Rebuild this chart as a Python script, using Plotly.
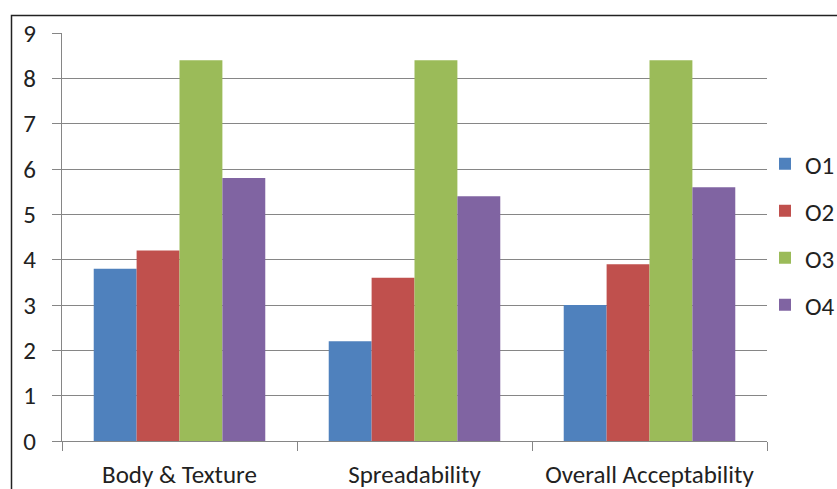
import plotly.graph_objects as go

categories = ["Body & Texture", "Spreadability", "Overall Acceptability"]
series_names = ["O1", "O2", "O3", "O4"]
o1 = [3.8, 2.2, 3.0]
o2 = [4.2, 3.6, 3.9]
o3 = [8.4, 8.4, 8.4]
o4 = [5.8, 5.4, 5.6]
colors = ["#4F81BD", "#C0504D", "#9BBB59", "#8064A2"]
y_ticks = [0, 1, 2, 3, 4, 5, 6, 7, 8, 9]

FONT = "Carlito, Open Sans, Liberation Sans, sans-serif"
FS = 25

fig = go.Figure()
for name, vals, col in zip(series_names, [o1, o2, o3, o4], colors):
    fig.add_trace(go.Bar(x=categories, y=vals, name=name, marker_color=col,
                         marker_line_width=0, legendgroup=name))

W, H = 837, 489
ml, mr, mt, mb = 62, 70, 33, 48
pw = W - ml - mr
ph = H - mt - mb

fig.update_layout(
    width=W, height=H,
    margin=dict(l=ml, r=mr, t=mt, b=mb, pad=0, autoexpand=False),
    paper_bgcolor="white", plot_bgcolor="white",
    barmode="group", bargap=0.27, bargroupgap=0,
    font=dict(family=FONT, size=FS, color="#222222"),
    showlegend=True,
    legend=dict(x=(765 - ml) / pw, y=(441 - 141) / ph, xanchor="left", yanchor="top",
                font=dict(size=FS, family=FONT, color="#222222"),
                tracegroupgap=11.5, itemwidth=30, bgcolor="rgba(0,0,0,0)"),
    xaxis=dict(type="category", showgrid=False, showline=True, linecolor="#868686",
               linewidth=1, ticks="outside", tickson="boundaries", ticklen=9,
               tickcolor="#868686", tickfont=dict(size=FS, family=FONT, color="#222222"),
               ticklabelstandoff=11),
    yaxis=dict(range=[0, 9], tickvals=y_ticks, showgrid=True, gridcolor="#868686",
               gridwidth=1, showline=True, linecolor="#868686", linewidth=1,
               ticks="outside", ticklen=9, tickcolor="#868686",
               tickfont=dict(size=FS, family=FONT, color="#222222"),
               zeroline=False, ticklabelstandoff=11),
    shapes=[dict(type="rect", xref="paper", yref="paper",
                 x0=(11.5 - ml) / pw, x1=(W + 20 - ml) / pw,
                 y0=-(mb + 20) / ph, y1=(441 - 15.5) / ph,
                 line=dict(color="#222222", width=1.5), fillcolor="rgba(0,0,0,0)",
                 layer="below")],
)

fig.write_html("out.html")
